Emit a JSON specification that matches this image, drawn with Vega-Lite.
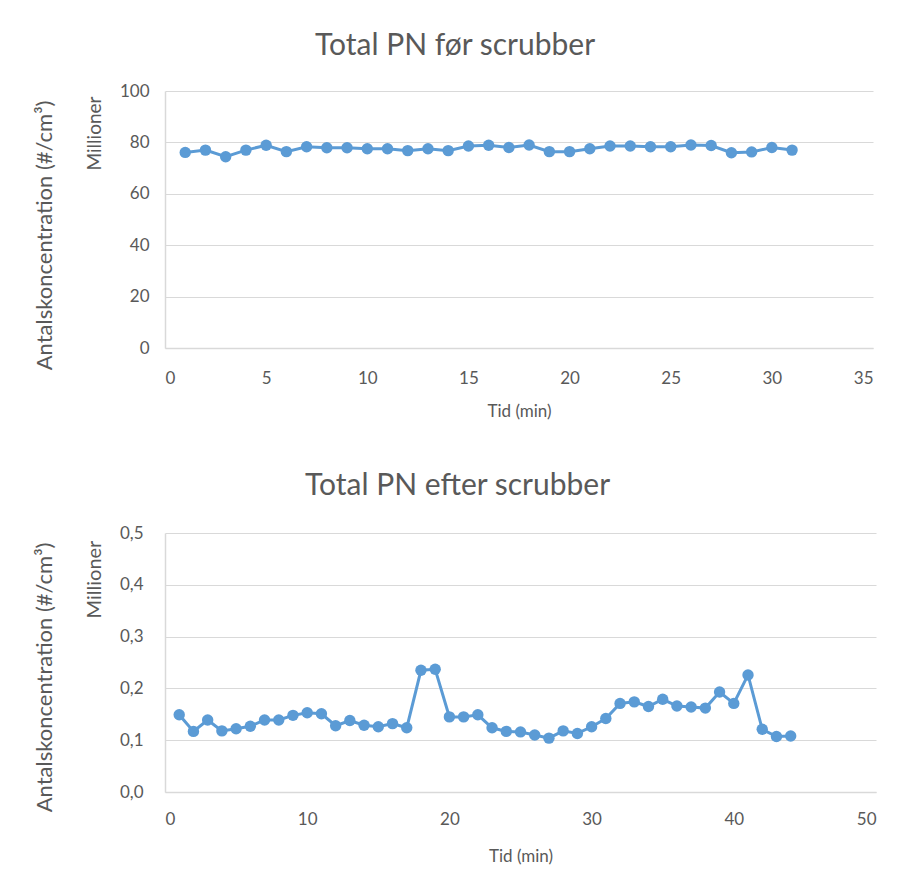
{
  "$schema": "https://vega.github.io/schema/vega-lite/v6.json",
  "background": "white",
  "padding": {"left": 32, "top": 31, "right": 10, "bottom": 10},
  "config": {
    "locale": {"number": {"decimal": ",", "thousands": ".", "grouping": [3], "currency": ["", " kr"]}},
    "font": "Lato",
    "view": {"stroke": null},
    "axis": {
      "labelFont": "Lato", "labelFontSize": 17, "labelColor": "#595959",
      "titleFont": "Lato", "titleFontSize": 19, "titleColor": "#595959", "titleFontWeight": "normal",
      "gridColor": "#d9d9d9", "gridWidth": 1, "domainColor": "#d9d9d9", "domainWidth": 1.5, "ticks": false
    },
    "title": {"font": "Lato", "fontSize": 30, "fontWeight": "normal", "color": "#595959"}
  },
  "datasets": {
    "foer": [
      {"tid": 1, "pn": 76.1}, {"tid": 2, "pn": 77.0}, {"tid": 3, "pn": 74.4}, {"tid": 4, "pn": 77.0},
      {"tid": 5, "pn": 78.9}, {"tid": 6, "pn": 76.4}, {"tid": 7, "pn": 78.3}, {"tid": 8, "pn": 77.9},
      {"tid": 9, "pn": 77.9}, {"tid": 10, "pn": 77.5}, {"tid": 11, "pn": 77.5}, {"tid": 12, "pn": 76.8},
      {"tid": 13, "pn": 77.5}, {"tid": 14, "pn": 76.8}, {"tid": 15, "pn": 78.6}, {"tid": 16, "pn": 78.9},
      {"tid": 17, "pn": 78.0}, {"tid": 18, "pn": 79.0}, {"tid": 19, "pn": 76.4}, {"tid": 20, "pn": 76.4},
      {"tid": 21, "pn": 77.5}, {"tid": 22, "pn": 78.6}, {"tid": 23, "pn": 78.6}, {"tid": 24, "pn": 78.3},
      {"tid": 25, "pn": 78.3}, {"tid": 26, "pn": 79.0}, {"tid": 27, "pn": 78.8}, {"tid": 28, "pn": 76.0},
      {"tid": 29, "pn": 76.3}, {"tid": 30, "pn": 78.0}, {"tid": 31, "pn": 77.0}
    ],
    "efter": [
      {"tid": 1, "pn": 0.149}, {"tid": 2, "pn": 0.117}, {"tid": 3, "pn": 0.139}, {"tid": 4, "pn": 0.118},
      {"tid": 5, "pn": 0.122}, {"tid": 6, "pn": 0.127}, {"tid": 7, "pn": 0.139}, {"tid": 8, "pn": 0.139},
      {"tid": 9, "pn": 0.148}, {"tid": 10, "pn": 0.153}, {"tid": 11, "pn": 0.151}, {"tid": 12, "pn": 0.128},
      {"tid": 13, "pn": 0.138}, {"tid": 14, "pn": 0.129}, {"tid": 15, "pn": 0.126}, {"tid": 16, "pn": 0.132},
      {"tid": 17, "pn": 0.124}, {"tid": 18, "pn": 0.235}, {"tid": 19, "pn": 0.237}, {"tid": 20, "pn": 0.145},
      {"tid": 21, "pn": 0.145}, {"tid": 22, "pn": 0.149}, {"tid": 23, "pn": 0.124}, {"tid": 24, "pn": 0.117},
      {"tid": 25, "pn": 0.116}, {"tid": 26, "pn": 0.110}, {"tid": 27, "pn": 0.104}, {"tid": 28, "pn": 0.118},
      {"tid": 29, "pn": 0.113}, {"tid": 30, "pn": 0.126}, {"tid": 31, "pn": 0.142}, {"tid": 32, "pn": 0.171},
      {"tid": 33, "pn": 0.174}, {"tid": 34, "pn": 0.165}, {"tid": 35, "pn": 0.179}, {"tid": 36, "pn": 0.166},
      {"tid": 37, "pn": 0.164}, {"tid": 38, "pn": 0.162}, {"tid": 39, "pn": 0.193}, {"tid": 40, "pn": 0.171},
      {"tid": 41, "pn": 0.226}, {"tid": 42, "pn": 0.121}, {"tid": 43, "pn": 0.107}, {"tid": 44, "pn": 0.108}
    ]
  },
  "vconcat": [
    {
      "title": {"text": "Total PN før scrubber", "anchor": "middle", "frame": "group", "dx": -64, "offset": 21},
      "width": 708,
      "height": 257,
      "data": {"name": "foer"},
      "encoding": {
        "x": {"field": "tid", "type": "quantitative", "scale": {"domain": [0, 35], "nice": false},
              "axis": {"values": [0, 5, 10, 15, 20, 25, 30, 35], "grid": false, "title": "Tid (min)", "labelPadding": 22, "titlePadding": 17, "titleFontSize": 17}}
      },
      "layer": [
        {
          "mark": {"type": "line", "color": "#5b9bd5", "strokeWidth": 3},
          "encoding": {
            "y": {"field": "pn", "type": "quantitative", "scale": {"domain": [0, 100], "nice": false},
                  "axis": {"values": [0, 20, 40, 60, 80, 100], "format": "d", "title": "Millioner", "labelPadding": 16, "titleX": -71, "titleY": 42, "titleAngle": -90, "titleAlign": "center", "titleBaseline": "middle"}}
          }
        },
        {
          "mark": {"type": "point", "filled": true, "color": "#5b9bd5", "size": 130, "opacity": 1},
          "encoding": {
            "y": {"field": "pn", "type": "quantitative", "scale": {"domain": [0, 100], "nice": false},
                  "axis": {"orient": "left", "labels": false, "grid": false, "domain": false, "title": "Antalskoncentration (#/cm³)", "titleFontSize": 22, "titleX": -121, "titleY": 144, "titleAngle": -90, "titleAlign": "center", "titleBaseline": "middle"}}
          }
        }
      ],
      "resolve": {"axis": {"y": "independent"}}
    },
    {
      "title": {"text": "Total PN efter scrubber", "anchor": "middle", "frame": "group", "dx": -63, "offset": 23},
      "width": 711,
      "height": 259,
      "data": {"name": "efter"},
      "encoding": {
        "x": {"field": "tid", "type": "quantitative", "scale": {"domain": [0, 50], "nice": false},
              "axis": {"values": [0, 10, 20, 30, 40, 50], "grid": false, "title": "Tid (min)", "labelPadding": 19, "titlePadding": 21, "titleFontSize": 17}}
      },
      "layer": [
        {
          "mark": {"type": "line", "color": "#5b9bd5", "strokeWidth": 3},
          "encoding": {
            "y": {"field": "pn", "type": "quantitative", "scale": {"domain": [0, 0.5], "nice": false},
                  "axis": {"values": [0, 0.1, 0.2, 0.3, 0.4, 0.5], "format": ".1f", "title": "Millioner", "titleFontSize": 20, "labelPadding": 22, "titleX": -71, "titleY": 46, "titleAngle": -90, "titleAlign": "center", "titleBaseline": "middle"}}
          }
        },
        {
          "mark": {"type": "point", "filled": true, "color": "#5b9bd5", "size": 130, "opacity": 1},
          "encoding": {
            "y": {"field": "pn", "type": "quantitative", "scale": {"domain": [0, 0.5], "nice": false},
                  "axis": {"orient": "left", "labels": false, "grid": false, "domain": false, "title": "Antalskoncentration (#/cm³)", "titleFontSize": 22, "titleX": -121, "titleY": 144, "titleAngle": -90, "titleAlign": "center", "titleBaseline": "middle"}}
          }
        }
      ],
      "resolve": {"axis": {"y": "independent"}}
    }
  ],
  "spacing": 52
}
